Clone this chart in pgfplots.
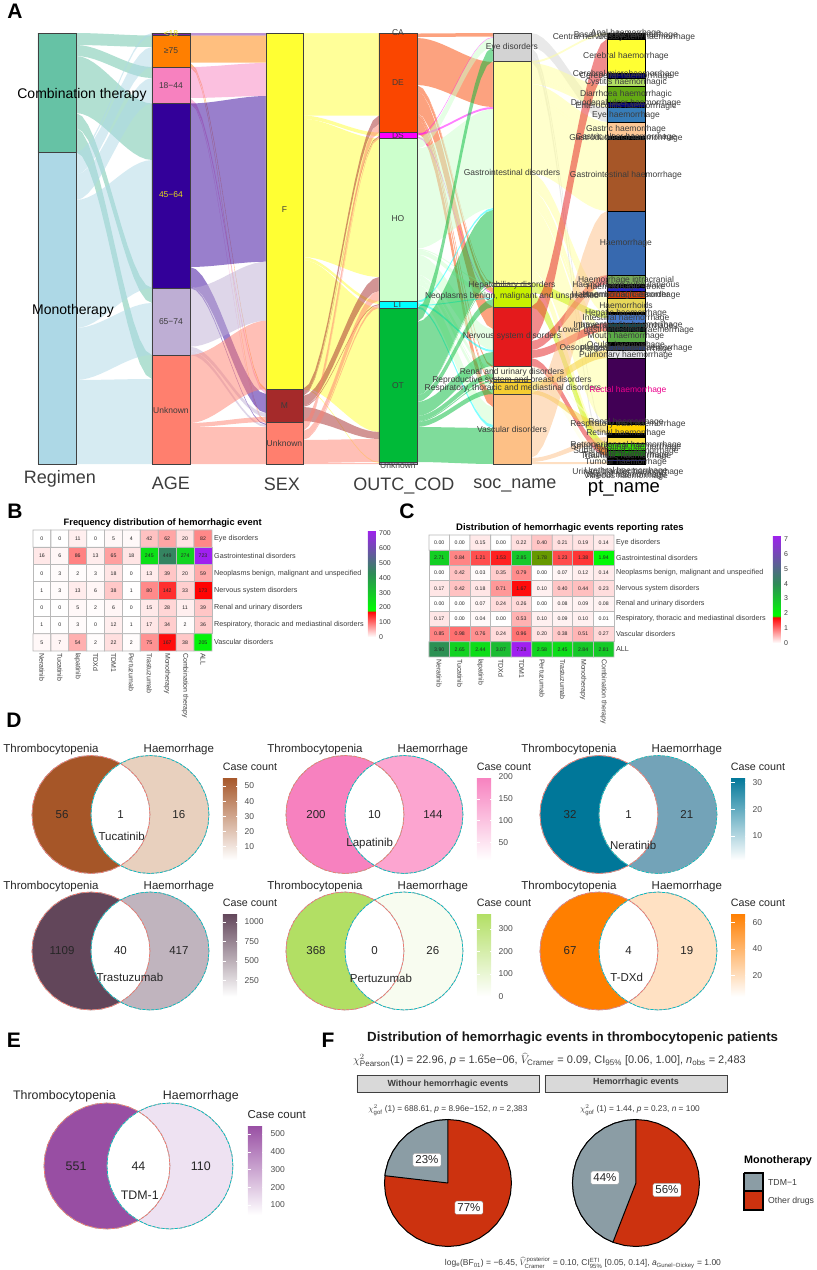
\documentclass[border=0pt]{standalone}
\usepackage{fontspec}
\setmainfont{Liberation Sans}
\usepackage{pgfplots}
\usepackage{pgfplotstable}
\pgfplotsset{compat=1.18}
\pgfplotsset{/pgf/number format/assume math mode=true, /pgf/number format/1000 sep={}}

% sankey link profile: t along the gap, s share of the rise, e which edge
\pgfplotstableread{
t s e
0 0 0
.08 .0182 0
.16 .0686 0
.24 .1452 0
.32 .2417 0
.4 .352 0
.5 .5 0
.6 .648 0
.68 .7583 0
.76 .8548 0
.84 .9314 0
.92 .9818 0
1 1 0
1 1 1
.92 .9818 1
.84 .9314 1
.76 .8548 1
.68 .7583 1
.6 .648 1
.5 .5 1
.4 .352 1
.32 .2417 1
.24 .1452 1
.16 .0686 1
.08 .0182 1
0 0 1
}\ribbon

% unit circle
\pgfplotstableread{
x y
1 0
.985 .174
.94 .342
.866 .5
.766 .643
.643 .766
.5 .866
.342 .94
.174 .985
0 1
-.174 .985
-.342 .94
-.5 .866
-.643 .766
-.766 .643
-.866 .5
-.94 .342
-.985 .174
-1 0
-.985 -.174
-.94 -.342
-.866 -.5
-.766 -.643
-.643 -.766
-.5 -.866
-.342 -.94
-.174 -.985
0 -1
.174 -.985
.342 -.94
.5 -.866
.643 -.766
.766 -.643
.866 -.5
.94 -.342
.985 -.174
1 0
}\circleT

% left crescent of a venn with circles at (0,0) and (1,0)
\pgfplotstableread{
x y
.5 .866
.342 .94
.174 .985
0 1
-.174 .985
-.342 .94
-.5 .866
-.643 .766
-.766 .643
-.866 .5
-.94 .342
-.985 .174
-1 0
-.985 -.174
-.94 -.342
-.866 -.5
-.766 -.643
-.643 -.766
-.5 -.866
-.342 -.94
-.174 -.985
0 -1
.174 -.985
.342 -.94
.5 -.866
.357 -.766
.234 -.643
.134 -.5
.06 -.342
.015 -.174
0 0
.015 .174
.06 .342
.134 .5
.234 .643
.357 .766
.5 .866
}\cresc

% TDM-1 wedges of the pies
\pgfplotstableread{
x y
0 0
0 1
-.174 .985
-.342 .94
-.5 .866
-.643 .766
-.766 .643
-.866 .5
-.94 .342
-.985 .174
-.993 .115
0 0
}\wedgeA
\pgfplotstableread{
x y
0 0
0 1
-.174 .985
-.342 .94
-.5 .866
-.643 .766
-.766 .643
-.866 .5
-.94 .342
-.985 .174
-1 0
-.985 -.174
-.94 -.342
-.866 -.5
-.766 -.643
-.643 -.766
-.5 -.866
-.362 -.932
0 0
}\wedgeB

\definecolor{regC}{RGB}{102,194,165}
\definecolor{regM}{RGB}{173,216,230}
\definecolor{ageA}{RGB}{120,40,170}
\definecolor{ageB}{RGB}{255,127,0}
\definecolor{ageC}{RGB}{247,129,191}
\definecolor{ageD}{RGB}{51,0,153}
\definecolor{ageE}{RGB}{190,174,212}
\definecolor{ageF}{RGB}{255,127,110}
\definecolor{sexF}{RGB}{255,255,51}
\definecolor{sexM}{RGB}{165,42,42}
\definecolor{outDE}{RGB}{250,70,0}
\definecolor{outDS}{RGB}{255,0,255}
\definecolor{outHO}{RGB}{204,255,204}
\definecolor{outLT}{RGB}{0,255,255}
\definecolor{outOT}{RGB}{0,186,56}
\definecolor{socEye}{RGB}{211,211,211}
\definecolor{socGI}{RGB}{255,255,153}
\definecolor{socNeo}{RGB}{200,240,0}
\definecolor{socNer}{RGB}{228,26,28}
\definecolor{socRen}{RGB}{255,255,225}
\definecolor{socRes}{RGB}{245,205,50}
\definecolor{socVas}{RGB}{253,192,134}
\definecolor{txt}{RGB}{60,60,60}
\definecolor{pieG}{RGB}{139,157,165}
\definecolor{pieR}{RGB}{204,50,15}
\definecolor{salm}{RGB}{248,118,109}
\definecolor{teal2}{RGB}{0,191,196}

\pgfplotsset{
  colormap={heatB}{rgb255(0pt)=(255,255,255) rgb255(175pt)=(255,0,0) rgb255(178pt)=(0,255,0) rgb255(430pt)=(46,139,87) rgb255(723pt)=(160,32,240)},
  colormap={heatC}{rgb255(0pt)=(255,255,255) rgb255(175pt)=(255,0,0) rgb255(180pt)=(0,255,0) rgb255(400pt)=(46,139,87) rgb255(728pt)=(160,32,240)},
  colormap={tuc}{rgb255=(255,255,255) rgb255=(166,86,40)},
  colormap={lap}{rgb255=(255,255,255) rgb255=(247,129,191)},
  colormap={ner}{rgb255=(255,255,255) rgb255=(0,119,153)},
  colormap={tra}{rgb255=(255,255,255) rgb255=(98,70,90)},
  colormap={per}{rgb255=(255,255,255) rgb255=(178,223,100)},
  colormap={tdx}{rgb255=(255,255,255) rgb255=(255,127,0)},
  colormap={tdm}{rgb255=(255,255,255) rgb255=(152,78,163)},
  vennbase/.style={
    hide axis, clip=false, scale only axis, anchor=center,
    xmin=-1.5, xmax=2.5, ymin=-1.1, ymax=1.1,
    colorbar,
    colorbar style={
      at={(parent axis.center)}, anchor=north west,
      axis line style={draw=none}, axis on top,
      tick align=inside, ytick pos=both, yticklabel pos=right,
      major tick length=3.5pt, ytick style={white,line width=.5pt},
      yticklabel style={font=\fontsize{8.5}{9}\selectfont,text=black!70,inner sep=4.5pt},
    },
  },
  vennD/.style={vennbase, width=236pt, height=129.8pt,
    colorbar style={xshift=94pt, yshift=37.5pt, width=17pt, height=83pt}},
  vennE/.style={vennbase, width=252pt, height=138.6pt,
    colorbar style={xshift=101pt, yshift=41pt, width=18pt, height=90pt}},
  heat/.style={
    scale only axis, tick style={draw=none}, major tick length=0pt,
    axis line style={draw=none}, clip=false,
    yticklabel pos=right,
    xticklabel style={rotate=-90, anchor=west, font=\fontsize{7}{8}\selectfont, text=txt, inner sep=2pt},
    yticklabel style={font=\fontsize{7.2}{8}\selectfont, text=txt, inner sep=2pt},
    nodes near coords style={anchor=center, font=\fontsize{5.2}{6}\selectfont, text=black!85, inner sep=0pt},
    colorbar,
  },
  heatbar/.style={
    at={(parent axis.north east)}, anchor=north west,
    axis line style={draw=none}, major tick length=0pt,
    yticklabel pos=right,
    yticklabel style={font=\fontsize{7}{8}\selectfont, text=txt, inner sep=3pt},
  },
}

\newcommand\vf{11.5}
\newcommand\vc{10.7}
% axis options, left fill, right fill, three counts, drug, its place, x of the left name
\newcommand\venn[9]{%
\begin{axis}[#1]
\addplot[fill={#2},draw=none,forget plot] table[x=x,y=y]{\cresc};
\addplot[fill={#3},draw=none,forget plot] table[x expr={1-\thisrow{x}},y=y]{\cresc};
\addplot[gray!70,line width=.7pt,forget plot] table[x=x,y=y]{\circleT};
\addplot[gray!70,line width=.7pt,forget plot] table[x expr={1+\thisrow{x}},y=y]{\circleT};
\addplot[salm,line width=.7pt,dash pattern=on 3pt off 1.5pt,forget plot] table[x=x,y=y]{\circleT};
\addplot[teal2,line width=.7pt,dash pattern=on 3pt off 1.5pt,forget plot] table[x expr={1+\thisrow{x}},y=y]{\circleT};
\node[font=\fontsize{\vf}{\vf}\selectfont,text=black!85] at (axis cs:-.49,0) {#4};
\node[font=\fontsize{\vf}{\vf}\selectfont,text=black!85] at (axis cs:.5,0) {#5};
\node[font=\fontsize{\vf}{\vf}\selectfont,text=black!85] at (axis cs:1.49,0) {#6};
\node[font=\fontsize{\vf}{\vf}\selectfont,text=black!85] at (axis cs:#8) {#7};
\node[font=\fontsize{\vf}{\vf}\selectfont,text=black!85] at (axis cs:#9,1.1) {Thrombocytopenia};
\node[font=\fontsize{\vf}{\vf}\selectfont,text=black!85] at (axis cs:1.49,1.1) {Haemorrhage};
\node[font=\fontsize{\vc}{\vc}\selectfont,text=black!85] at (axis cs:2.695,.81) {Case count};
\end{axis}}

% one link of the sankey: left span, right span, colour
\newcommand\fl[5]{\addplot[fill={#5},fill opacity=.5,draw=none,forget plot]
  table[x expr={\xa+\thisrow{t}*(\xb-\xa)},
        y expr={(1-\thisrow{e})*(#1+\thisrow{s}*(#3-(#1)))+\thisrow{e}*(#2+\thisrow{s}*(#4-(#2)))}]{\ribbon};}
% one node of the sankey
\newcommand\bx[5]{\addplot[fill={#5},draw=black!75,line width=.8pt,forget plot]
  coordinates {(#1,#2)(#3,#2)(#3,#4)(#1,#4)(#1,#2)};}
\newcommand\pt[3]{\addplot[fill={#3},draw=black,line width=.9pt,forget plot]
  coordinates {(606,#1)(644,#1)(644,#2)(606,#2)(606,#1)};}
\newcommand\tx[5][]{\node[font=\fontsize{#4}{#4}\selectfont,text=txt,inner sep=0pt,#1] at (axis cs:#2,#3) {#5};}
\newcommand\sm[2]{\mbox{\fontsize{#1}{#1}\selectfont #2}}

\begin{document}
\begin{tikzpicture}

% ---- B
\begin{axis}[heat, at={(32pt,619pt)}, anchor=south west, width=179pt, height=121pt,
  xmin=-.5, xmax=9.5, ymin=-.5, ymax=6.5,
  xtick={0,...,9}, ytick={0,...,6},
  xticklabels={Neratinib,Tucatinib,lapatinib,TDXd,TDM1,Pertuzumab,Trastuzumab,Monotherapy,Combination therapy,ALL},
  yticklabels={Vascular disorders,{Respiratory, thoracic and mediastinal disorders},Renal and urinary disorders,Nervous system disorders,{Neoplasms benign, malignant and unspecified},Gastrointestinal disorders,Eye disorders},
  colormap name=heatB, point meta min=0, point meta max=723,
  colorbar style={heatbar, xshift=147.5pt, width=8pt, height=107pt, ytick={0,100,...,700}},
]
\addplot[matrix plot*, mesh/cols=10, point meta=explicit, draw=gray!55, line width=.8pt,
  nodes near coords={\pgfmathprintnumber{\pgfplotspointmeta}}] coordinates {
(0,6)[0] (1,6)[0] (2,6)[11] (3,6)[0] (4,6)[5] (5,6)[4] (6,6)[42] (7,6)[62] (8,6)[20] (9,6)[82]

(0,5)[16] (1,5)[6] (2,5)[86] (3,5)[13] (4,5)[65] (5,5)[18] (6,5)[245] (7,5)[449] (8,5)[274] (9,5)[723]

(0,4)[0] (1,4)[3] (2,4)[2] (3,4)[3] (4,4)[18] (5,4)[0] (6,4)[13] (7,4)[39] (8,4)[20] (9,4)[59]

(0,3)[1] (1,3)[3] (2,3)[13] (3,3)[6] (4,3)[38] (5,3)[1] (6,3)[80] (7,3)[142] (8,3)[33] (9,3)[173]

(0,2)[0] (1,2)[0] (2,2)[5] (3,2)[2] (4,2)[6] (5,2)[0] (6,2)[15] (7,2)[28] (8,2)[11] (9,2)[39]

(0,1)[1] (1,1)[0] (2,1)[3] (3,1)[0] (4,1)[12] (5,1)[1] (6,1)[17] (7,1)[34] (8,1)[2] (9,1)[36]

(0,0)[5] (1,0)[7] (2,0)[54] (3,0)[2] (4,0)[22] (5,0)[2] (6,0)[75] (7,0)[167] (8,0)[38] (9,0)[205]
};
\end{axis}

% ---- C
\begin{axis}[heat, at={(428pt,613pt)}, anchor=south west, width=185pt, height=122pt,
  xmin=-.5, xmax=8.5, ymin=-.5, ymax=7.5,
  xtick={0,...,8}, ytick={0,...,7},
  xticklabels={Neratinib,Tucatinib,lapatinib,TDXd,TDM1,Pertuzumab,Trastuzumab,Monotherapy,Combination therapy},
  yticklabels={ALL,Vascular disorders,{Respiratory, thoracic and mediastinal disorders},Renal and urinary disorders,Nervous system disorders,{Neoplasms benign, malignant and unspecified},Gastrointestinal disorders,Eye disorders},
  colormap name=heatC, point meta min=0, point meta max=7.28,
  colorbar style={heatbar, xshift=150.5pt, width=8pt, height=108pt, ytick={0,1,...,7}},
]
\addplot[matrix plot*, mesh/cols=9, point meta=explicit, draw=gray!55, line width=.8pt,
  nodes near coords={\pgfmathprintnumber[fixed,fixed zerofill,precision=2]{\pgfplotspointmeta}}] coordinates {
(0,7)[0] (1,7)[0] (2,7)[.15] (3,7)[0] (4,7)[.22] (5,7)[.40] (6,7)[.21] (7,7)[.19] (8,7)[.14]

(0,6)[2.71] (1,6)[.84] (2,6)[1.21] (3,6)[1.53] (4,6)[2.85] (5,6)[1.78] (6,6)[1.23] (7,6)[1.38] (8,6)[1.94]

(0,5)[0] (1,5)[.42] (2,5)[.03] (3,5)[.35] (4,5)[.79] (5,5)[0] (6,5)[.07] (7,5)[.12] (8,5)[.14]

(0,4)[.17] (1,4)[.42] (2,4)[.18] (3,4)[.71] (4,4)[1.67] (5,4)[.10] (6,4)[.40] (7,4)[.44] (8,4)[.23]

(0,3)[0] (1,3)[0] (2,3)[.07] (3,3)[.24] (4,3)[.26] (5,3)[0] (6,3)[.08] (7,3)[.09] (8,3)[.08]

(0,2)[.17] (1,2)[0] (2,2)[.04] (3,2)[0] (4,2)[.53] (5,2)[.10] (6,2)[.09] (7,2)[.10] (8,2)[.01]

(0,1)[.85] (1,1)[.98] (2,1)[.76] (3,1)[.24] (4,1)[.96] (5,1)[.20] (6,1)[.38] (7,1)[.51] (8,1)[.27]

(0,0)[3.90] (1,0)[2.65] (2,0)[2.44] (3,0)[3.07] (4,0)[7.28] (5,0)[2.58] (6,0)[2.45] (7,0)[2.84] (8,0)[2.81]
};
\end{axis}

% ---- D
\venn{vennD, at={(119.5pt,455.5pt)}, colormap name=tuc, point meta min=1, point meta max=56,
  colorbar style={ytick={10,20,30,40,50}}}{rgb,255:red,166;green,86;blue,40}{rgb,255:red,232;green,208;blue,190}{56}{1}{16}{Tucatinib}{.52,-.364}{-.678}
\venn{vennD, at={(373.5pt,455.5pt)}, colormap name=lap, point meta min=10, point meta max=200,
  colorbar style={ytick={50,100,150,200}}}{rgb,255:red,247;green,129;blue,191}{rgb,255:red,252;green,165;blue,208}{200}{10}{144}{Lapatinib}{.42,-.5}{-.508}
\venn{vennD, at={(627.5pt,455.5pt)}, colormap name=ner, point meta min=1, point meta max=32,
  colorbar style={ytick={10,20,30}}}{rgb,255:red,0;green,119;blue,153}{rgb,255:red,115;green,163;blue,184}{32}{1}{21}{Neratinib}{.58,-.53}{-.508}
\venn{vennD, at={(119.5pt,319pt)}, colormap name=tra, point meta min=40, point meta max=1109,
  colorbar style={ytick={250,500,750,1000}}}{rgb,255:red,98;green,70;blue,90}{rgb,255:red,192;green,180;blue,190}{1109}{40}{417}{Trastuzumab}{.66,-.44}{-.678}
\venn{vennD, at={(373.5pt,319pt)}, colormap name=per, point meta min=0, point meta max=368,
  colorbar style={ytick={0,100,200,300}}}{rgb,255:red,178;green,223;blue,100}{rgb,255:red,248;green,252;blue,240}{368}{0}{26}{Pertuzumab}{.61,-.46}{-.508}
\venn{vennD, at={(627.5pt,319pt)}, colormap name=tdx, point meta min=4, point meta max=67,
  colorbar style={ytick={20,40,60}}}{rgb,255:red,255;green,127;blue,0}{rgb,255:red,255;green,225;blue,195}{67}{4}{19}{T-DXd}{.47,-.44}{-.508}

% ---- E
\renewcommand\vf{12.4}
\renewcommand\vc{11.5}
\venn{vennE, at={(137.5pt,104pt)}, colormap name=tdm, point meta min=44, point meta max=551,
  colorbar style={ytick={100,200,300,400,500}}}{rgb,255:red,152;green,78;blue,163}{rgb,255:red,238;green,226;blue,242}{551}{44}{110}{TDM-1}{.52,-.46}{-.675}

% ---- A, F and all loose text, in picture pixels
\begin{axis}[at={(0pt,0pt)}, anchor=south west, scale only axis, width=816pt, height=1270pt,
  xmin=0, xmax=816, ymin=0, ymax=1270, y dir=reverse, hide axis, clip=false]
\addplot[draw=none,forget plot] coordinates {(0,0)(816,1270)};

% regimen to age
\def\xa{75}\def\xb{151}
\fl{33}{45}{35.5}{47}{regC}
\fl{45}{56}{67}{78}{regC}
\fl{56}{113}{103.5}{160}{regC}
\fl{113}{128}{288}{303}{regC}
\fl{128}{152}{355}{379}{regC}
\fl{152}{154.5}{33}{35.5}{regM}
\fl{154.5}{174.5}{47}{67}{regM}
\fl{174.5}{200}{78}{103.5}{regM}
\fl{200}{328}{160}{288}{regM}
\fl{328}{380}{303}{355}{regM}
\fl{380}{464}{379}{464}{regM}

% age to sex
\def\xa{189}\def\xb{265}
\fl{33}{35.5}{33}{35.5}{ageA}
\fl{35.5}{62.7}{35.5}{62.7}{ageB}
\fl{62.7}{65}{389}{391}{ageB}
\fl{65}{67}{422}{423}{ageB}
\fl{67}{98}{63}{96}{ageC}
\fl{98}{102}{391}{394}{ageC}
\fl{102}{103.5}{423}{424}{ageC}
\fl{103.5}{267}{96}{261.7}{ageD}
\fl{267}{286}{394}{413}{ageD}
\fl{286}{288}{424}{425}{ageD}
\fl{288}{346.7}{261.7}{320.7}{ageE}
\fl{346.7}{351}{413}{417}{ageE}
\fl{351}{355}{425}{427}{ageE}
\fl{355}{423}{320.7}{389}{ageF}
\fl{423}{427}{417}{422}{ageF}
\fl{427}{464}{427}{464}{ageF}

% sex to outcome
\def\xa{302}\def\xb{378}
\fl{33}{33.5}{33}{33.5}{sexF}
\fl{33.5}{115.5}{33.5}{115.5}{sexF}
\fl{115.5}{119}{132.5}{136}{sexF}
\fl{119}{257}{138.5}{277}{sexF}
\fl{257}{260}{301}{304}{sexF}
\fl{260}{388}{308}{432}{sexF}
\fl{388}{389}{462}{463}{sexF}
\fl{389}{395}{115.5}{124}{sexM}
\fl{395}{396}{136}{137}{sexM}
\fl{396}{406}{277}{291}{sexM}
\fl{406}{407}{304}{305}{sexM}
\fl{407}{421}{432}{439}{sexM}
\fl{422}{430}{124}{132.5}{ageF}
\fl{430}{431}{137}{138.5}{ageF}
\fl{431}{439}{291}{300.7}{ageF}
\fl{439}{440}{305}{308}{ageF}
\fl{440}{463}{439}{462}{ageF}
\fl{463}{464}{463}{464}{ageF}

% outcome to system organ class
\def\xa{416}\def\xb{492}
\fl{33.5}{37}{33}{36.5}{outDE}
\fl{38}{85}{62}{107}{outDE}
\fl{85}{86}{283}{284}{outDE}
\fl{86}{91}{288}{293}{outDE}
\fl{91}{113}{307}{329}{outDE}
\fl{113}{115}{366}{368}{outDE}
\fl{115}{116}{379}{380}{outDE}
\fl{116}{119}{382}{384}{outDE}
\fl{119}{132.5}{394}{407}{outDE}
\fl{133}{135}{107}{109}{outDS}
\fl{135}{136}{37}{37.5}{outDS}
\fl{136}{137.5}{293}{294}{outDS}
\fl{138.5}{148.5}{37.5}{47}{outHO}
\fl{148.5}{248.5}{109}{208}{outHO}
\fl{248.5}{249.5}{284}{285}{outHO}
\fl{249.5}{254.5}{294}{298}{outHO}
\fl{254.5}{274.5}{329}{350}{outHO}
\fl{274.5}{278.5}{368}{373.5}{outHO}
\fl{278.5}{279.5}{380}{381}{outHO}
\fl{279.5}{284.5}{384}{389}{outHO}
\fl{284.5}{300.7}{407}{425}{outHO}
\fl{301}{303}{208}{210}{outLT}
\fl{303}{305}{350}{352}{outLT}
\fl{305}{306}{298}{299}{outLT}
\fl{306}{308}{425}{428}{outLT}
\fl{308}{322}{47}{61}{outOT}
\fl{322}{395}{210}{283}{outOT}
\fl{395}{395.5}{285}{286}{outOT}
\fl{395.5}{402}{299}{307}{outOT}
\fl{402}{416}{352}{366}{outOT}
\fl{416}{421}{373.5}{379}{outOT}
\fl{421}{422}{381}{382}{outOT}
\fl{422}{427}{389}{394}{outOT}
\fl{427}{462}{428}{464}{outOT}

% system organ class to preferred term
\def\xa{530}\def\xb{606}
\fl{33}{47}{107}{122}{socEye}
\fl{47}{52}{433}{437}{socEye}
\fl{52}{61}{459}{464}{socEye}
\fl{61}{63}{33}{35}{socGI}
\fl{63}{79}{86}{102}{socGI}
\fl{79}{84}{102}{107}{socGI}
\fl{84}{98}{122}{136}{socGI}
\fl{98}{101}{136}{139}{socGI}
\fl{101}{173}{139}{211}{socGI}
\fl{173}{187}{298}{312}{socGI}
\fl{187}{190}{312}{314}{socGI}
\fl{190}{201}{331}{342}{socGI}
\fl{201}{207}{344}{350}{socGI}
\fl{207}{270}{359}{422}{socGI}
\fl{270}{283}{443}{456}{socGI}
\fl{283}{286}{312}{314}{socNeo}
\fl{286}{293}{314}{318}{socNeo}
\fl{293}{307}{443}{456}{socNeo}
\fl{307}{341}{39}{73}{socNer}
\fl{341}{350}{275}{284}{socNer}
\fl{350}{358}{323}{331}{socNer}
\fl{358}{366}{448}{456}{socNer}
\fl{366}{368}{422}{424}{socRen}
\fl{368}{379}{459}{464}{socRen}
\fl{382}{390}{350}{358}{socRes}
\fl{390}{394}{424}{433}{socRes}
\fl{394}{458}{211}{275}{socVas}
\fl{458}{462}{437}{443}{socVas}
\fl{462}{464}{462}{464}{socVas}

% nodes
\bx{37}{33}{75}{152}{regC}
\bx{37}{152}{75}{464}{regM}
\bx{151}{33}{189}{35.5}{ageA}
\bx{151}{35.5}{189}{67}{ageB}
\bx{151}{67}{189}{103.5}{ageC}
\bx{151}{103.5}{189}{288}{ageD}
\bx{151}{288}{189}{355}{ageE}
\bx{151}{355}{189}{464}{ageF}
\bx{265}{33}{302}{389}{sexF}
\bx{265}{389}{302}{422}{sexM}
\bx{265}{422}{302}{464}{ageF}
\bx{378}{33}{416}{132.5}{outDE}
\bx{378}{132.5}{416}{138.5}{outDS}
\bx{378}{138.5}{416}{301}{outHO}
\bx{378}{301}{416}{308}{outLT}
\bx{378}{308}{416}{462}{outOT}
\bx{378}{462}{416}{464}{ageE}
\bx{492}{33}{530}{61}{socEye}
\bx{492}{61}{530}{283}{socGI}
\bx{492}{283}{530}{286}{socGI}
\bx{492}{286}{530}{307}{socNeo}
\bx{492}{307}{530}{366}{socNer}
\bx{492}{366}{530}{379}{socRen}
\bx{492}{379}{530}{382}{socRes}
\bx{492}{382}{530}{394}{socRes}
\bx{492}{394}{530}{464}{socVas}
\pt{33}{39}{black}
\pt{39}{73}{sexF}
\pt{73}{78}{blue!40!black}
\pt{78}{86}{rgb,255:red,178;green,223;blue,100}
\pt{86}{102}{rgb,255:red,100;green,170;blue,20}
\pt{102}{107}{blue!50!black}
\pt{107}{122}{rgb,255:red,55;green,125;blue,185}
\pt{122}{136}{rgb,255:red,253;green,200;blue,150}
\pt{136}{139}{black}
\pt{139}{211}{rgb,255:red,166;green,86;blue,40}
\pt{211}{275}{rgb,255:red,55;green,105;blue,175}
\pt{275}{284}{rgb,255:red,120;green,170;blue,90}
\pt{284}{287}{black}
\pt{287}{291}{rgb,255:red,40;green,40;blue,200}
\pt{291}{298}{rgb,255:red,220;green,60;blue,10}
\pt{298}{312}{rgb,255:red,230;green,215;blue,90}
\pt{312}{314}{black}
\pt{314}{323}{rgb,255:red,70;green,120;blue,200}
\pt{323}{327}{rgb,255:red,0;green,80;blue,90}
\pt{327}{331}{rgb,255:red,10;green,30;blue,30}
\pt{331}{342}{rgb,255:red,90;green,170;blue,70}
\pt{342}{345}{black}
\pt{345}{350}{rgb,255:red,40;green,60;blue,120}
\pt{350}{358}{rgb,255:red,230;green,230;blue,235}
\pt{358}{422}{rgb,255:red,65;green,0;blue,85}
\pt{422}{424}{black}
\pt{424}{433}{rgb,255:red,255;green,210;blue,0}
\pt{433}{437}{black}
\pt{437}{443}{rgb,255:red,250;green,225;blue,70}
\pt{443}{450}{rgb,255:red,60;green,230;blue,0}
\pt{450}{456}{rgb,255:red,20;green,140;blue,10}
\pt{456}{459}{black}
\pt{459}{461}{rgb,255:red,40;green,40;blue,120}
\pt{461}{464}{black}

% pies
\addplot[fill=pieR,draw=black,line width=1pt,forget plot] table[x expr={447+63.5*\thisrow{x}},y expr={1183-63.5*\thisrow{y}}]{\circleT};
\addplot[fill=pieG,draw=black,line width=1pt,forget plot] table[x expr={447+63.5*\thisrow{x}},y expr={1183-63.5*\thisrow{y}}]{\wedgeA};
\addplot[fill=pieR,draw=black,line width=1pt,forget plot] table[x expr={635+63.5*\thisrow{x}},y expr={1183-63.5*\thisrow{y}}]{\circleT};
\addplot[fill=pieG,draw=black,line width=1pt,forget plot] table[x expr={635+63.5*\thisrow{x}},y expr={1183-63.5*\thisrow{y}}]{\wedgeB};
\addplot[fill=black!15,draw=black!75,line width=.8pt,forget plot] coordinates {(356,1075)(538,1075)(538,1092)(356,1092)(356,1075)};
\addplot[fill=black!15,draw=black!75,line width=.8pt,forget plot] coordinates {(544,1075)(726,1075)(726,1092)(544,1092)(544,1075)};
\addplot[fill=pieG,draw=black,line width=1.2pt,forget plot] coordinates {(743,1173)(762,1173)(762,1191)(743,1191)(743,1173)};
\addplot[fill=pieR,draw=black,line width=1.2pt,forget plot] coordinates {(743,1191)(762,1191)(762,1210)(743,1210)(743,1191)};

% panel letters
\tx[text=black,font=\bfseries\fontsize{21}{21}\selectfont]{14}{11}{21}{A}
\tx[text=black,font=\bfseries\fontsize{21}{21}\selectfont]{14}{511}{21}{B}
\tx[text=black,font=\bfseries\fontsize{21}{21}\selectfont]{406}{511}{21}{C}
\tx[text=black,font=\bfseries\fontsize{21}{21}\selectfont]{13}{720}{21}{D}
\tx[text=black,font=\bfseries\fontsize{21}{21}\selectfont]{13}{1040}{21}{E}
\tx[text=black,font=\bfseries\fontsize{21}{21}\selectfont]{327}{1040}{21}{F}

% sankey text
\tx{59}{479}{18}{Regimen}
\tx{170}{483}{18}{AGE}
\tx{281}{484}{18}{SEX}
\tx{403}{486}{18}{OUTC\_COD}
\tx{514}{485}{18}{soc\_name}
\tx[text=black]{623}{488}{18.5}{pt\_name}
\tx[text=black]{81}{95}{14}{Combination therapy}
\tx[text=black]{72}{311}{14}{Monotherapy}
\tx[text=yellow!90!black]{170}{34}{8.5}{<18}
\tx{170}{51}{8.5}{≥75}
\tx{170}{85.5}{8.5}{18−44}
\tx[text=yellow!90!black]{170}{195}{8.5}{45−64}
\tx{170}{322}{8.5}{65−74}
\tx{170}{410}{8.5}{Unknown}
\tx{283.5}{210}{8.5}{F}
\tx{283.5}{405.5}{8.5}{M}
\tx{283.5}{443.7}{8.5}{Unknown}
\tx{397}{33}{8.5}{CA}
\tx{397}{83}{8.5}{DE}
\tx{397}{135.5}{8.5}{DS}
\tx{397}{219}{8.5}{HO}
\tx{397}{305}{8.5}{LT}
\tx{397}{385.7}{8.5}{OT}
\tx{397}{465}{8.5}{Unknown}
\tx{511}{47}{8.5}{Eye disorders}
\tx{511}{172.7}{8.5}{Gastrointestinal disorders}
\tx{511}{285}{8.5}{Hepatobiliary disorders}
\tx{511}{296.7}{8.5}{Neoplasms benign, malignant and unspecified}
\tx{511}{336}{8.5}{Nervous system disorders}
\tx{511}{372}{8.5}{Renal and urinary disorders}
\tx{511}{380}{8.5}{Reproductive system and breast disorders}
\tx{512}{388}{8.5}{Respiratory, thoracic and mediastinal disorders}
\tx{511}{429}{8.5}{Vascular disorders}
\tx{625}{33}{8.5}{Anal haemorrhage}
\tx{625}{35}{8.5}{Basal ganglia haemorrhage}
\tx{623}{37}{8.5}{Central nervous system haemorrhage}
\tx{625}{56}{8.5}{Cerebral haemorrhage}
\tx{625}{74}{8.5}{Cerebral microhaemorrhage}
\tx{625}{76}{8.5}{Cerebellar haemorrhage}
\tx{625}{82}{8.5}{Cystitis haemorrhagic}
\tx{625}{94}{8.5}{Diarrhoea haemorrhagic}
\tx{625}{103}{8.5}{Duodenal ulcer haemorrhage}
\tx{625}{106}{8.5}{Enterocolitis haemorrhagic}
\tx{625}{115}{8.5}{Eye haemorrhage}
\tx{625}{129}{8.5}{Gastric haemorrhage}
\tx{625}{137}{8.5}{Gastric ulcer haemorrhage}
\tx{625}{138.5}{8.5}{Gastroduodenal haemorrhage}
\tx{625}{175}{8.5}{Gastrointestinal haemorrhage}
\tx{625}{243}{8.5}{Haemorrhage}
\tx{625}{280}{8.5}{Haemorrhage intracranial}
\tx{625}{285}{8.5}{Haemorrhage subcutaneous}
\tx{625}{287}{8.5}{Haemorrhagic stroke}
\tx{625}{295}{8.5}{Haemorrhagic disorder}
\tx{625}{295.5}{8.5}{Haemorrhoidal haemorrhage}
\tx{625}{305.7}{8.5}{Haemorrhoids}
\tx{625}{313}{8.5}{Hepatic haemorrhage}
\tx{625}{318}{8.5}{Intestinal haemorrhage}
\tx{627}{325}{8.5}{Intraventricular haemorrhage}
\tx{625}{326}{8.5}{Intracranial haemorrhage}
\tx{625}{330}{8.5}{Lower gastrointestinal haemorrhage}
\tx{625}{336.7}{8.5}{Mouth haemorrhage}
\tx{625}{345}{8.5}{Ocular haemorrhage}
\tx{625}{348}{8.5}{Oesophageal varices haemorrhage}
\tx{625}{349}{8.5}{Peritoneal haemorrhage}
\tx{625}{355}{8.5}{Pulmonary haemorrhage}
\tx[text=magenta]{627}{390.7}{8.5}{Rectal haemorrhage}
\tx{625}{422.7}{8.5}{Renal haemorrhage}
\tx{627}{424}{8.5}{Respiratory tract haemorrhage}
\tx{625}{433}{8.5}{Retinal haemorrhage}
\tx{625}{445}{8.5}{Retroperitoneal haemorrhage}
\tx{625}{447}{8.5}{Small intestinal haemorrhage}
\tx{625}{451}{8.5}{Subarachnoid haemorrhage}
\tx{625}{455.7}{8.5}{Tracheal haemorrhage}
\tx{625}{456}{8.5}{Traumatic haemorrhage}
\tx{625}{462.7}{8.5}{Tumour haemorrhage}
\tx{625}{471}{8.5}{Urethral haemorrhage}
\tx{627}{472.7}{8.5}{Urinary bladder haemorrhage}
\tx{625}{475.7}{8.5}{Vaginal haemorrhage}
\tx{625}{476.7}{8.5}{Vitreous haemorrhage}

% heatmap titles
\tx[text=black,font=\bfseries\fontsize{9.3}{9.3}\selectfont]{161.7}{523}{9.3}{Frequency distribution of hemorrhagic event}
\tx[text=black,font=\bfseries\fontsize{9.5}{9.5}\selectfont]{569}{528}{9.5}{Distribution of hemorrhagic events reporting rates}

% F text
\tx[text=black!90,font=\bfseries\fontsize{13.3}{13.3}\selectfont]{571.7}{1038}{13.3}{Distribution of hemorrhagic events in thrombocytopenic patients}
\tx{548.5}{1060}{11}{$\chi^2_{\sm{8}{Pearson}}$(1) = 22.96, \textit{p} = 1.65e−06, $\widehat{V}_{\sm{8}{Cramer}}$ = 0.09, CI$_{\sm{8}{95\%}}$ [0.06, 1.00], \textit{n}$_{\sm{8}{obs}}$ = 2,483}
\tx[font=\bfseries\fontsize{8.9}{9}\selectfont]{447}{1084.5}{8.9}{Withour hemorrhagic events}
\tx[font=\bfseries\fontsize{8.9}{9}\selectfont]{635}{1082.5}{8.9}{Hemorrhagic events}
\tx{447}{1110}{8.3}{$\chi^2_{\sm{6}{gof}}$ (1) = 688.61,\ \textit{p} = 8.96e−152,\ \textit{n} = 2,383}
\tx{639}{1110}{8.3}{$\chi^2_{\sm{6}{gof}}$ (1) = 1.44,\ \textit{p} = 0.23,\ \textit{n} = 100}
\tx[text=black!85,fill=white,draw=gray!70,rounded corners=1.5pt,inner sep=2.5pt]{426}{1160}{11.5}{23\%}
\tx[text=black!85,fill=white,draw=gray!70,rounded corners=1.5pt,inner sep=2.5pt]{468}{1207.7}{11.5}{77\%}
\tx[text=black!85,fill=white,draw=gray!70,rounded corners=1.5pt,inner sep=2.5pt]{604}{1177.7}{11.5}{44\%}
\tx[text=black!85,fill=white,draw=gray!70,rounded corners=1.5pt,inner sep=2.5pt]{666}{1190}{11.5}{56\%}
\tx[anchor=west,text=black,font=\bfseries\fontsize{10.8}{11}\selectfont]{743}{1161}{10.8}{Monotherapy}
\tx[anchor=west]{767}{1182}{8.7}{TDM−1}
\tx[anchor=west]{767}{1201}{8.7}{Other drugs}
\tx{582}{1263}{8.5}{log$_{\sm{6}{e}}$(BF$_{\sm{6}{01}}$) = −6.45, $\widehat{V}^{\sm{6}{posterior}}_{\sm{6}{Cramer}}$ = 0.10, CI$^{\sm{6}{ETI}}_{\sm{6}{95\%}}$ [0.05, 0.14], \textit{a}$_{\sm{6}{Gunel−Dickey}}$ = 1.00}
\end{axis}
\end{tikzpicture}
\end{document}
